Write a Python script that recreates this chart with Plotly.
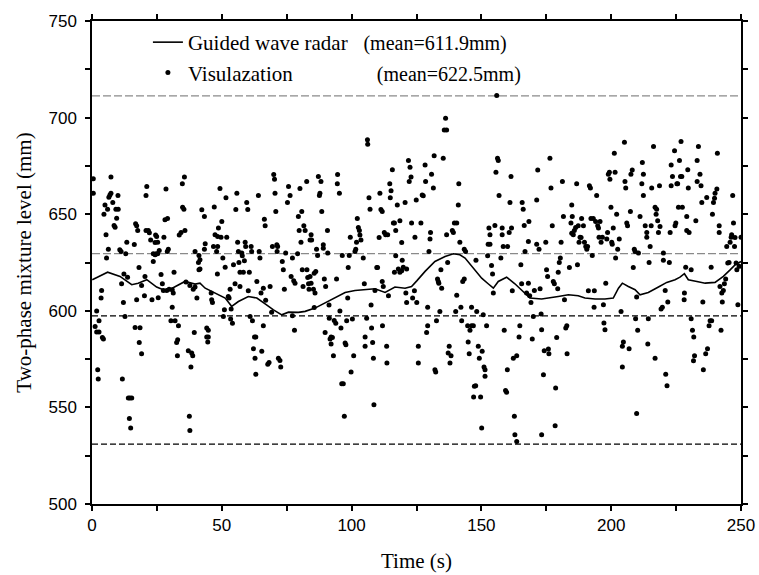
import plotly.graph_objects as go

# ---------------- data ----------------
radar_time = [0.1, 6.0, 10.8, 15.3, 17.8, 21.1, 24.9, 28.1, 30.9, 34.5,
              35.8, 39.7, 41.6, 43.6, 47.4, 51.3, 53.8, 56.4, 60.2, 63.5,
              66.7, 69.9, 73.1, 75.7, 79.5, 82.1, 85.9, 89.8, 93.6, 97.5,
              101.3, 105.2, 109.0, 112.9, 116.7, 120.6, 123.1, 125.1, 128.3, 132.1,
              136.0, 139.2, 141.7, 143.7, 146.9, 150.1, 152.6, 154.6, 156.5, 159.7,
              162.9, 165.5, 168.7, 173.2, 177.1, 179.6, 183.5, 187.3, 189.9, 193.8,
              197.6, 200.8, 202.8, 204.3, 206.6, 209.2, 211.1, 214.3, 218.2, 221.4,
              224.6, 226.5, 228.2, 229.7, 233.0, 236.2, 240.0, 243.2, 245.8, 247.7,
              250.0]
radar_level = [616.1, 620.0, 617.8, 613.5, 614.3, 616.1, 612.3, 610.5, 611.7, 614.3,
               615.2, 613.8, 614.3, 611.7, 609.2, 606.6, 602.3, 604.8, 607.4, 606.6,
               603.6, 600.5, 597.9, 599.3, 599.2, 599.7, 601.4, 604.0, 606.6, 609.5,
               610.5, 610.9, 611.4, 609.5, 612.3, 611.7, 612.6, 615.5, 620.4, 625.5,
               628.1, 629.5, 629.0, 627.3, 622.1, 616.9, 614.0, 611.7, 615.2, 617.4,
               614.0, 610.5, 606.6, 606.1, 607.1, 607.4, 608.3, 607.8, 606.6, 606.1,
               606.1, 606.6, 611.7, 614.3, 612.6, 610.9, 608.3, 609.5, 612.3, 614.7,
               616.1, 617.4, 619.2, 616.1, 615.2, 614.3, 614.7, 617.8, 621.2, 623.8,
               625.5]

# visualization samples (time s, level mm), split by time range
vis_0_42 = [(0.5, 668.3), (0.5, 660.9), (7.3, 669.3), (6.5, 658.8), (6.9, 660.0), (7.3, 660.9), (8.0, 656.0), (5.0, 654.7), (6.0, 652.6), (4.6, 650.0),
            (9.2, 652.6), (10.1, 652.6), (9.5, 647.9), (8.5, 644.2), (8.9, 643.3), (10.0, 659.7), (5.4, 639.3), (6.3, 631.9), (5.6, 627.3), (10.7, 631.6),
            (11.2, 630.7), (13.0, 629.5), (13.4, 635.5), (12.3, 619.0), (11.4, 614.0), (13.7, 617.4), (3.7, 610.5), (3.5, 606.6), (1.8, 599.9), (2.7, 594.9),
            (1.2, 591.9), (1.8, 589.0), (2.7, 589.0), (4.0, 586.2), (4.4, 585.4), (2.2, 569.5), (2.4, 564.7), (12.1, 604.3), (12.7, 597.1), (11.7, 564.7),
            (14.0, 554.9), (14.6, 554.9), (15.3, 554.9), (14.4, 544.2), (14.9, 539.3), (16.3, 634.3), (16.8, 645.0), (17.2, 644.0), (17.6, 641.6), (18.1, 622.4),
            (19.1, 613.1), (17.2, 605.7), (16.6, 591.4), (18.5, 591.2), (18.2, 583.6), (19.1, 577.8), (20.4, 617.8), (20.2, 607.8), (21.1, 664.3), (20.8, 659.7),
            (20.8, 641.6), (21.7, 641.6), (22.1, 640.4), (22.6, 636.7), (23.1, 605.7), (23.6, 625.5), (23.6, 629.5), (24.3, 629.0), (24.5, 639.2), (24.9, 638.5),
            (25.3, 635.5), (24.3, 635.4), (24.7, 629.5), (25.3, 629.5), (25.9, 631.2), (25.5, 606.8), (26.6, 618.8), (27.1, 614.0), (27.7, 638.1), (28.1, 647.1),
            (28.5, 663.1), (29.1, 647.8), (29.0, 630.7), (29.4, 631.9), (27.5, 610.5), (28.8, 610.5), (29.7, 611.1), (30.9, 610.9), (31.6, 620.0), (30.9, 601.9),
            (30.4, 594.9), (32.0, 594.9), (31.3, 609.2), (33.3, 592.3), (32.6, 583.6), (33.0, 585.0), (32.9, 576.7), (33.6, 639.2), (34.3, 640.5), (34.8, 665.7),
            (35.6, 669.3), (34.9, 653.6), (35.4, 652.6), (35.8, 641.6), (36.2, 614.9), (37.7, 613.1), (37.1, 579.3), (38.4, 578.1), (38.8, 576.7), (38.1, 570.9),
            (37.5, 545.4), (37.7, 538.1), (39.7, 630.7), (39.0, 611.2), (39.7, 612.3), (40.4, 606.6), (39.4, 588.8), (41.0, 625.0), (41.2, 621.2)]

vis_42_84 = [(41.6, 626.4), (41.2, 628.6), (42.3, 652.3), (43.3, 648.8), (43.6, 634.7), (43.3, 631.9), (41.6, 621.6), (44.2, 591.1), (44.8, 589.9), (44.2, 586.4),
             (44.8, 586.4), (44.6, 583.8), (45.9, 609.2), (46.1, 605.7), (46.4, 604.3), (47.1, 653.7), (47.4, 639.3), (48.4, 638.5), (48.4, 633.3), (46.8, 633.3),
             (48.0, 630.7), (48.7, 642.8), (49.3, 663.3), (49.7, 638.1), (50.0, 646.2), (50.4, 627.3), (48.3, 619.0), (51.6, 658.5), (51.9, 638.1), (51.3, 622.6),
             (51.0, 600.5), (50.6, 597.1), (52.5, 607.4), (52.8, 606.6), (53.2, 611.2), (53.4, 595.7), (54.1, 593.5), (53.6, 600.9), (54.5, 623.8), (55.1, 614.0),
             (55.4, 652.4), (55.8, 660.9), (56.1, 635.5), (56.4, 630.7), (56.6, 625.0), (57.0, 619.9), (57.0, 612.6), (57.7, 629.9), (57.9, 628.5), (58.3, 619.9),
             (58.7, 625.9), (59.0, 635.5), (59.2, 633.3), (59.6, 656.1), (60.0, 652.4), (60.2, 610.4), (60.6, 619.9), (60.9, 597.1), (61.3, 633.3), (61.5, 630.7),
             (61.8, 594.9), (62.6, 586.4), (63.1, 586.4), (62.2, 580.4), (62.8, 575.5), (63.1, 567.1), (63.5, 615.2), (64.1, 659.7), (64.4, 630.7), (64.7, 627.3),
             (65.1, 609.2), (65.4, 579.0), (66.0, 592.3), (66.4, 647.4), (66.7, 644.0), (66.0, 611.7), (66.9, 605.4), (67.7, 572.3), (68.2, 573.3), (68.6, 612.6),
             (69.2, 599.2), (69.5, 633.3), (70.0, 670.5), (70.3, 668.1), (70.5, 660.9), (70.8, 651.4), (71.2, 634.2), (71.5, 633.3), (71.3, 630.7), (71.8, 575.5),
             (72.4, 574.3), (72.7, 570.9), (73.3, 625.5), (73.7, 621.2), (74.1, 611.2), (74.6, 629.9), (75.3, 656.1), (75.7, 664.3), (76.3, 659.7), (76.7, 617.8),
             (77.2, 627.3), (77.7, 615.5), (78.2, 614.3), (78.0, 589.9), (77.2, 597.4), (79.2, 629.5), (79.5, 648.8), (79.8, 641.6), (80.1, 663.3), (80.5, 635.5),
             (80.8, 651.4), (81.6, 644.0), (82.1, 641.6), (82.7, 666.9), (81.0, 621.2), (81.3, 612.6), (82.8, 621.2), (83.1, 617.3), (83.4, 614.0), (83.6, 611.2),
             (84.0, 636.7)]

vis_84_126 = [(84.4, 639.3), (84.6, 636.7), (84.0, 617.8), (84.4, 614.3), (85.3, 611.2), (85.9, 609.2), (85.6, 619.5), (86.2, 620.4), (85.6, 601.7), (87.2, 669.5),
              (88.2, 666.9), (87.8, 660.9), (87.6, 659.7), (88.5, 651.4), (86.5, 631.9), (86.9, 628.6), (89.1, 634.2), (89.1, 632.4), (90.8, 629.9), (90.7, 641.6),
              (89.5, 616.4), (90.0, 612.6), (91.3, 603.0), (91.4, 596.1), (89.8, 588.8), (92.1, 586.4), (92.6, 586.2), (91.7, 585.4), (92.1, 582.8), (93.0, 576.7),
              (93.3, 595.0), (93.9, 593.6), (94.2, 616.4), (94.6, 670.5), (94.5, 665.7), (95.3, 660.9), (95.5, 599.9), (95.9, 591.1), (96.2, 562.3), (96.8, 562.3),
              (97.2, 545.4), (97.5, 583.3), (97.8, 582.4), (96.4, 628.6), (98.1, 594.9), (98.5, 606.6), (98.7, 622.4), (99.1, 628.6), (99.5, 638.1), (99.8, 568.3),
              (100.3, 595.7), (100.8, 576.7), (101.3, 630.7), (101.6, 631.9), (101.9, 635.5), (102.2, 647.8), (102.6, 643.1), (103.0, 641.6), (103.2, 639.2), (103.6, 636.7),
              (104.5, 627.3), (104.9, 614.0), (105.2, 586.4), (105.2, 581.6), (105.8, 596.1), (106.1, 688.5), (106.2, 686.2), (106.7, 658.5), (107.1, 652.6), (107.5, 603.0),
              (107.7, 591.1), (108.1, 583.6), (108.4, 575.5), (108.6, 551.4), (109.0, 610.5), (109.7, 622.4), (110.0, 622.4), (110.6, 638.0), (110.9, 660.9), (111.3, 652.4),
              (111.8, 651.4), (111.8, 615.2), (112.2, 612.6), (111.9, 592.3), (112.6, 640.5), (113.1, 639.3), (113.9, 639.3), (113.5, 581.6), (113.6, 573.0), (114.2, 607.8),
              (114.7, 665.7), (115.2, 662.1), (114.9, 658.5), (115.7, 673.0), (116.1, 645.4), (116.5, 645.4), (117.0, 641.6), (117.0, 628.5), (116.5, 619.9), (117.6, 654.8),
              (118.6, 646.6), (119.3, 635.4), (119.5, 626.1), (118.0, 621.6), (118.6, 619.9), (119.3, 620.7), (119.9, 622.6), (120.6, 656.1), (121.2, 621.6), (121.9, 677.8),
              (122.5, 674.3), (122.9, 669.3), (122.2, 666.9), (123.1, 645.4), (124.4, 638.1), (124.9, 657.4), (120.9, 609.2), (121.2, 604.3), (123.5, 606.6), (124.2, 610.4),
              (125.1, 604.3), (125.7, 581.6), (125.7, 573.0)]

vis_126_168 = [(126.7, 645.4), (127.2, 660.0), (127.6, 659.5), (128.3, 675.5), (128.5, 666.9), (129.3, 601.9), (129.3, 592.3), (128.9, 588.8), (130.2, 637.1), (130.4, 640.5),
               (129.8, 630.7), (130.8, 670.7), (131.5, 663.5), (131.8, 680.2), (132.1, 569.5), (132.4, 568.3), (132.7, 594.9), (133.1, 616.4), (133.4, 615.2), (133.6, 614.3),
               (134.0, 599.7), (134.4, 621.2), (134.7, 611.7), (135.3, 679.0), (135.7, 693.6), (136.2, 699.7), (136.6, 693.6), (136.6, 639.3), (137.0, 625.0), (137.6, 581.6),
               (137.2, 578.1), (138.3, 576.7), (137.9, 573.0), (138.8, 641.6), (139.2, 640.5), (139.6, 645.4), (140.5, 645.4), (140.1, 599.7), (140.5, 608.1), (141.1, 654.8),
               (141.3, 665.7), (141.7, 635.5), (142.1, 601.9), (142.4, 594.9), (142.8, 615.2), (143.4, 616.4), (143.4, 631.9), (143.9, 630.7), (144.7, 592.3), (144.9, 583.8),
               (145.3, 577.8), (145.6, 589.9), (146.2, 592.3), (146.9, 592.3), (146.2, 601.9), (147.3, 560.9), (147.8, 561.2), (147.0, 555.4), (148.2, 599.7), (147.9, 626.1),
               (148.8, 581.6), (149.2, 575.5), (149.7, 555.4), (150.1, 539.3), (150.3, 579.0), (150.7, 598.0), (151.0, 570.9), (151.4, 569.5), (151.4, 566.1), (152.0, 592.3),
               (152.4, 628.5), (152.6, 634.5), (153.3, 634.5), (152.9, 642.8), (153.3, 639.3), (153.9, 623.5), (154.3, 619.0), (154.6, 609.2), (155.2, 644.2), (155.9, 711.4),
               (155.6, 671.7), (156.2, 679.0), (156.5, 677.8), (156.8, 659.7), (157.5, 627.3), (158.0, 642.8), (158.0, 639.3), (158.4, 633.3), (158.8, 589.9), (159.3, 558.8),
               (159.7, 557.8), (160.0, 569.5), (160.1, 633.3), (160.7, 640.5), (161.0, 656.1), (161.4, 669.5), (161.6, 642.8), (161.9, 610.4), (162.3, 575.5), (162.7, 545.4),
               (162.9, 535.9), (163.6, 532.4), (163.6, 576.7), (164.5, 586.4), (164.8, 592.3), (165.2, 623.8), (165.5, 614.0), (165.7, 656.1), (166.1, 652.6), (166.5, 644.2),
               (166.8, 630.7), (167.4, 609.2), (168.1, 635.9), (168.3, 646.2), (168.1, 614.3)]

vis_168_211 = [(168.6, 607.8), (169.1, 604.3), (170.0, 597.1), (169.6, 585.4), (170.4, 610.5), (171.3, 634.5), (171.7, 672.9), (171.3, 657.4), (172.2, 631.9), (172.6, 611.4),
               (173.0, 598.3), (173.2, 590.2), (173.9, 566.9), (173.2, 535.9), (174.2, 579.3), (174.8, 635.5), (175.1, 621.2), (175.5, 617.8), (175.8, 580.2), (176.0, 577.8),
               (176.4, 679.0), (176.8, 663.5), (177.3, 644.0), (177.7, 615.2), (178.1, 614.0), (178.6, 560.0), (178.4, 540.5), (179.0, 586.2), (179.4, 611.4), (179.6, 620.0),
               (180.0, 625.0), (180.4, 627.3), (180.7, 635.5), (181.2, 666.9), (181.6, 648.8), (182.0, 605.7), (182.5, 591.1), (182.9, 592.3), (183.0, 577.8), (183.9, 622.4),
               (184.8, 654.8), (184.5, 645.4), (185.0, 648.8), (184.8, 640.2), (185.4, 639.3), (185.8, 641.6), (186.3, 643.1), (186.7, 665.7), (187.0, 623.8), (187.3, 644.0),
               (187.6, 635.5), (188.0, 638.1), (188.4, 638.0), (188.6, 647.8), (189.3, 644.0), (189.7, 635.5), (190.2, 633.3), (190.6, 631.9), (190.9, 633.3), (191.2, 610.4),
               (191.6, 664.7), (192.0, 663.5), (192.2, 647.8), (192.7, 628.6), (193.1, 647.8), (193.4, 601.9), (193.5, 610.4), (194.0, 646.2), (194.4, 659.7), (194.8, 644.0),
               (195.1, 642.8), (195.3, 638.1), (195.7, 646.2), (196.1, 635.5), (196.6, 638.1), (197.0, 603.1), (197.2, 593.7), (197.6, 590.2), (197.9, 614.3), (198.3, 637.1),
               (198.6, 640.5), (198.9, 670.7), (199.3, 671.7), (199.5, 668.1), (199.9, 653.6), (200.2, 635.5), (200.4, 634.5), (200.8, 642.8), (201.2, 681.6), (201.5, 671.7),
               (202.1, 650.0), (201.7, 627.3), (202.5, 631.9), (203.1, 637.1), (203.8, 599.7), (204.3, 581.6), (204.7, 583.8), (204.3, 570.9), (205.3, 666.9), (205.6, 663.5),
               (205.1, 687.3), (206.0, 645.4), (206.3, 644.0), (206.9, 580.4), (207.4, 651.4), (207.6, 670.7), (208.1, 672.9), (208.5, 622.4), (208.9, 631.9), (209.2, 630.7),
               (209.8, 607.1), (209.8, 546.8), (209.4, 595.9), (210.2, 589.9), (211.1, 648.8), (210.5, 629.9)]

vis_211_250 = [(212.0, 676.7), (212.4, 670.7), (211.8, 665.7), (212.4, 659.7), (213.1, 644.0), (213.7, 640.5), (213.7, 638.1), (214.6, 625.0), (215.0, 633.3), (215.4, 644.0),
               (215.6, 663.5), (216.3, 685.0), (216.9, 653.6), (217.5, 652.6), (217.3, 650.0), (217.9, 646.6), (218.2, 640.5), (218.6, 664.7), (218.8, 643.6), (214.3, 595.9),
               (214.1, 582.8), (216.9, 575.5), (219.2, 600.9), (219.7, 601.9), (220.1, 629.9), (220.1, 626.1), (220.8, 610.5), (221.0, 567.1), (221.5, 561.2), (221.8, 604.5),
               (222.4, 625.0), (222.7, 640.5), (223.1, 664.7), (223.1, 675.5), (223.6, 669.5), (224.4, 682.8), (224.6, 644.0), (224.9, 645.4), (225.3, 665.7), (225.6, 665.7),
               (225.9, 653.6), (226.3, 677.8), (226.7, 669.5), (226.9, 687.6), (227.4, 653.6), (227.2, 669.5), (228.1, 605.7), (228.2, 609.2), (228.7, 622.6), (229.1, 648.8),
               (229.1, 641.6), (229.5, 673.0), (229.7, 663.5), (230.0, 640.5), (230.8, 621.2), (230.8, 595.9), (231.3, 589.9), (231.8, 586.4), (231.7, 574.2), (232.1, 576.7),
               (232.6, 646.6), (233.1, 677.8), (233.1, 666.9), (233.6, 685.0), (234.2, 670.7), (234.6, 664.7), (234.9, 656.1), (235.3, 604.5), (235.5, 569.5), (236.4, 577.8),
               (237.1, 580.4), (236.8, 658.6), (237.7, 592.3), (238.1, 594.9), (238.7, 594.9), (239.0, 650.0), (238.5, 622.6), (239.4, 656.1), (239.8, 658.3), (240.0, 660.9),
               (240.7, 663.0), (240.9, 681.6), (241.6, 644.0), (241.6, 640.5), (241.9, 612.6), (242.3, 589.9), (242.6, 609.2), (242.8, 604.5), (243.2, 610.5), (243.6, 614.0),
               (244.1, 616.4), (244.5, 633.3), (244.9, 624.7), (245.4, 625.0), (245.8, 635.5), (246.2, 638.1), (246.4, 639.3), (246.8, 659.7), (247.1, 645.4), (247.5, 633.3),
               (247.7, 638.0), (248.1, 624.7), (248.4, 621.2), (248.8, 603.1), (249.3, 623.0), (250.0, 638.1)]

ref_levels = [711.2, 629.6, 597.4, 531.0]
ref_colors = ["#8a8a8a", "#8a8a8a", "#000000", "#000000"]

x_ticks = [0, 50, 100, 150, 200, 250]
y_ticks = [500, 550, 600, 650, 700, 750]

radar_name = "Guided wave radar"
radar_mean = "(mean=611.9mm)"
vis_name = "Visulazation"
vis_mean = "(mean=622.5mm)"

# ---------------- figure ----------------
vis_all = vis_0_42 + vis_42_84 + vis_84_126 + vis_126_168 + vis_168_211 + vis_211_250
vis_time = [p[0] for p in vis_all]
vis_level = [p[1] for p in vis_all]

SERIF = "Liberation Serif, Times New Roman, serif"
SANS = "Liberation Sans, Arial, sans-serif"

fig = go.Figure()

for lv, col in zip(ref_levels, ref_colors):
    fig.add_shape(type="line", xref="x", yref="y", x0=0, x1=250, y0=lv, y1=lv,
                  line=dict(color=col, width=1.2,
                            dash="8px,3px" if col != "#000000" else "6px,3px"),
                  layer="below")

fig.add_trace(go.Scatter(
    x=radar_time, y=radar_level, mode="lines",
    line=dict(color="black", width=1.6),
    name=f"{radar_name}   <span style='font-size:20px'>{radar_mean}</span>",
    legendgroup="a",
))
fig.add_trace(go.Scatter(
    x=vis_time, y=vis_level, mode="markers",
    marker=dict(color="black", size=5),
    name=f"{vis_name}" + " " * 16 + f"<span style='font-size:20px'>{vis_mean}</span>",
    legendgroup="b",
))

axis_common = dict(
    showline=True, linecolor="black", linewidth=1.5, mirror="ticks",
    ticks="outside", ticklen=5, tickwidth=1.5, tickcolor="black",
    showgrid=False, zeroline=False, automargin=False,
    ticklabeloverflow="allow",
    tickfont=dict(family=SANS, size=17, color="black"),
)

fig.update_xaxes(
    range=[0, 250], tickvals=x_ticks,
    minor=dict(dtick=25, tick0=0, ticks="outside", ticklen=5, tickwidth=1.5, tickcolor="black"),
    title=dict(text="Time (s)", font=dict(family=SERIF, size=21, color="black"), standoff=19),
    ticklabelstandoff=0,
    **axis_common,
)
fig.update_yaxes(
    range=[500, 750], tickvals=y_ticks,
    minor=dict(dtick=25, tick0=500, ticks="outside", ticklen=5, tickwidth=1.5, tickcolor="black"),
    title=dict(text="Two-phase mixture level (mm)", font=dict(family=SERIF, size=21, color="black"), standoff=11),
    ticklabelstandoff=5,
    **axis_common,
)

fig.update_layout(
    width=759, height=575,
    margin=dict(l=92, r=18, t=21, b=71, autoexpand=False),
    plot_bgcolor="white", paper_bgcolor="white",
    showlegend=True,
    legend=dict(
        x=56 / 650, xanchor="left",
        y=1 - 1 / 483, yanchor="top",
        bgcolor="rgba(0,0,0,0)", borderwidth=0,
        font=dict(family=SERIF, size=21, color="black"),
        tracegroupgap=1, traceorder="normal",
    ),
)

# place the figure flush with the window's top-left corner (no page margin)
fig.write_html(
    "out.html",
    config={"displayModeBar": False},
    post_script="document.body.style.margin='0';document.body.style.overflow='hidden';",
)
